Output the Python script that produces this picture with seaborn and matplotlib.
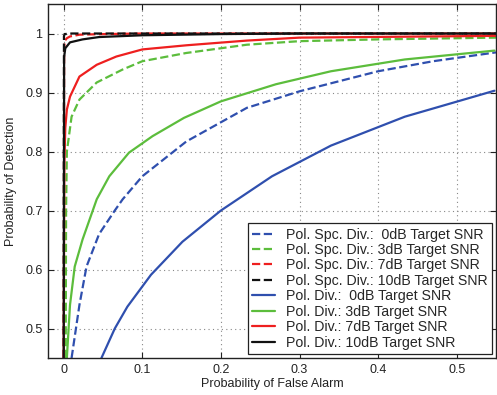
import matplotlib
matplotlib.use("Agg")
import matplotlib.pyplot as plt
import seaborn as sns
import pandas as pd

sns.set_theme(style="white")
plt.rcParams['font.family'] = ['Liberation Sans', 'DejaVu Sans']

# ---- data ----
spc0_x = [0.010, 0.020, 0.029, 0.045, 0.065, 0.075, 0.100, 0.156, 0.233, 0.300, 0.400, 0.470, 0.550]
spc0_y = [0.450, 0.540, 0.605, 0.660, 0.700, 0.719, 0.758, 0.817, 0.874, 0.902, 0.936, 0.953, 0.968]

spc3_x = [0.0025, 0.003, 0.004, 0.010, 0.020, 0.042, 0.075, 0.100, 0.156, 0.233, 0.300, 0.400, 0.550]
spc3_y = [0.450, 0.700, 0.800, 0.859, 0.888, 0.917, 0.939, 0.953, 0.967, 0.981, 0.987, 0.990, 0.993]

spc7_x = [0.000, 0.0005, 0.001, 0.004, 0.008, 0.020, 0.050, 0.100, 0.550]
spc7_y = [0.450, 0.960, 0.987, 0.992, 0.995, 0.998, 0.999, 1.000, 1.000]

spc10_x = [0.000, 0.0003, 0.001, 0.010, 0.550]
spc10_y = [0.450, 0.995, 0.999, 1.000, 1.000]

div0_x = [0.048, 0.065, 0.081, 0.111, 0.151, 0.200, 0.265, 0.340, 0.434, 0.548]
div0_y = [0.450, 0.500, 0.537, 0.591, 0.647, 0.700, 0.758, 0.810, 0.859, 0.903]

div3_x = [0.004, 0.008, 0.014, 0.024, 0.042, 0.058, 0.083, 0.113, 0.153, 0.200, 0.270, 0.340, 0.434, 0.548]
div3_y = [0.450, 0.540, 0.605, 0.651, 0.719, 0.758, 0.798, 0.826, 0.857, 0.885, 0.914, 0.936, 0.956, 0.971]

div7_x = [0.000, 0.0008, 0.002, 0.004, 0.008, 0.020, 0.042, 0.067, 0.100, 0.156, 0.233, 0.300, 0.550]
div7_y = [0.450, 0.780, 0.840, 0.871, 0.893, 0.927, 0.947, 0.961, 0.973, 0.980, 0.988, 0.993, 0.996]

div10_x = [0.000, 0.0005, 0.002, 0.008, 0.024, 0.045, 0.100, 0.200, 0.300, 0.550]
div10_y = [0.450, 0.960, 0.975, 0.985, 0.990, 0.994, 0.997, 0.999, 1.000, 1.000]

labels = [
    "Pol. Spc. Div.:  0dB Target SNR",
    "Pol. Spc. Div.: 3dB Target SNR",
    "Pol. Spc. Div.: 7dB Target SNR",
    "Pol. Spc. Div.: 10dB Target SNR",
    "Pol. Div.:  0dB Target SNR",
    "Pol. Div.: 3dB Target SNR",
    "Pol. Div.: 7dB Target SNR",
    "Pol. Div.: 10dB Target SNR",
]
xticks = [0, 0.1, 0.2, 0.3, 0.4, 0.5]
yticks = [0.5, 0.6, 0.7, 0.8, 0.9, 1.0]

series = [
    (spc0_x, spc0_y, "#2f4fae", "--"),
    (spc3_x, spc3_y, "#5cbd3c", "--"),
    (spc7_x, spc7_y, "#ee1f1f", "--"),
    (spc10_x, spc10_y, "#111111", "--"),
    (div0_x, div0_y, "#2f4fae", "-"),
    (div3_x, div3_y, "#5cbd3c", "-"),
    (div7_x, div7_y, "#ee1f1f", "-"),
    (div10_x, div10_y, "#111111", "-"),
]

fig = plt.figure(figsize=(4.97, 3.95), dpi=100)
ax = fig.add_axes([48 / 497, 37 / 395, 448 / 497, 354 / 395])

for (xs, ys, col, ls), lab in zip(series, labels):
    df = pd.DataFrame({"x": xs, "y": ys})
    kw = dict(dashes=(4, 2.8)) if ls == "--" else {}
    sns.lineplot(data=df, x="x", y="y", ax=ax, color=col, linestyle=ls,
                 linewidth=1.6, label=lab, sort=False, estimator=None, **kw)

ax.set_xlim(-0.02, 0.55)
ax.set_ylim(0.45, 1.05)
ax.set_xticks(xticks)
ax.set_xticklabels(["0", "0.1", "0.2", "0.3", "0.4", "0.5"])
ax.set_yticks(yticks)
ax.set_yticklabels(["0.5", "0.6", "0.7", "0.8", "0.9", "1"])
ax.grid(True, linestyle=(0, (1, 3)), color="#888888", linewidth=0.8)
ax.tick_params(direction="in", length=4, width=0.8, labelsize=9,
               top=True, right=True, bottom=True, left=True, colors="#222222",
               labelcolor="#222222", pad=4)
for s in ax.spines.values():
    s.set_color("#222222")
    s.set_linewidth(1.0)

ax.set_xlabel("Probability of False Alarm", fontsize=9, labelpad=2, color="#222222")
ax.set_ylabel("Probability of Detection", fontsize=9, labelpad=6, color="#222222")

leg = ax.legend(loc="lower right", fontsize=10.2, frameon=True, fancybox=False,
                edgecolor="#222222", framealpha=1, handlelength=1.6,
                borderpad=0.3, labelspacing=0.1, handletextpad=0.8,
                borderaxespad=0.3)
leg.get_frame().set_linewidth(0.9)

fig.savefig("out.png", dpi=100)
